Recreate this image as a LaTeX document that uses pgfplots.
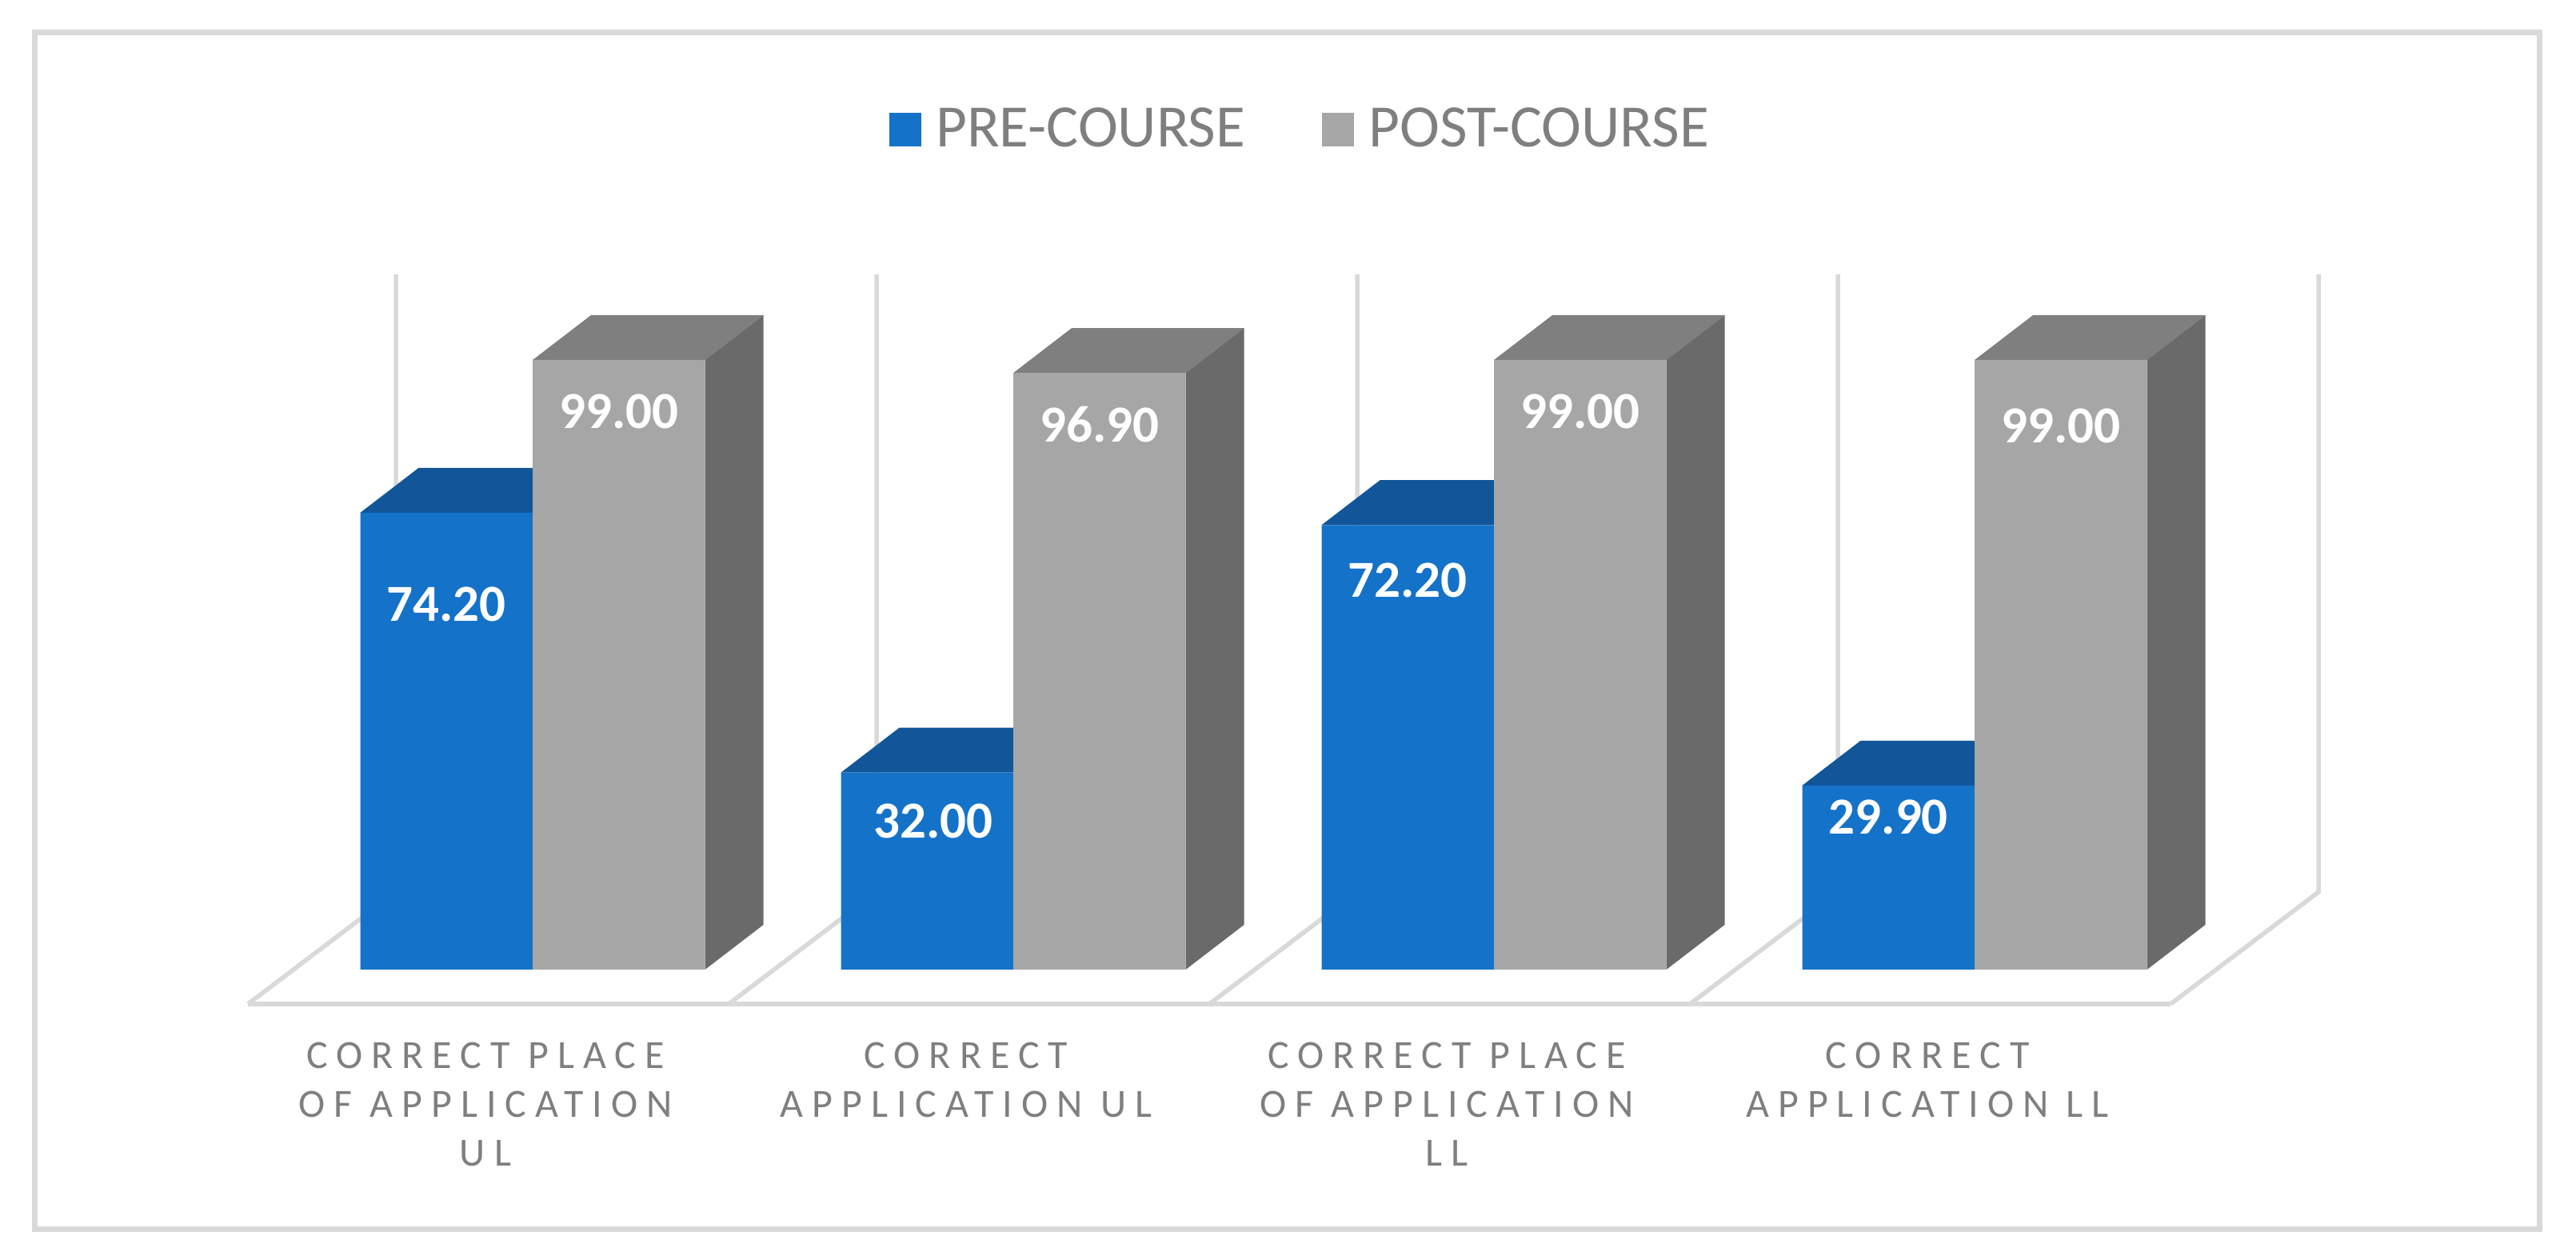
\documentclass[border=0pt]{standalone}
\usepackage{fontspec}
\setmainfont{Carlito}
\newfontfamily\spaced[LetterSpace=22]{Carlito}
\usepackage{pgfplots}
\usepackage{pgfplotstable}
\pgfplotsset{compat=1.18}
\definecolor{bluefront}{HTML}{1572C9}
\definecolor{bluetop}{HTML}{125699}
\definecolor{greyfront}{HTML}{A6A6A6}
\definecolor{greytop}{HTML}{7F7F7F}
\definecolor{greyside}{HTML}{6A6A6A}
\definecolor{framegrey}{HTML}{D9D9D9}
\definecolor{textgrey}{HTML}{7F7F7F}
% x = category, v = percentage, off/dx = label offset (pt) from the bar top centre
\pgfplotstableread{
x v off dx
0 74.2 28.75 0
1 32.0 15.25 2
2 72.2 17.25 0
3 29.9 10.00 0
}\pre
\pgfplotstableread{
x v off dx
0 99.0 16.00 0
1 96.9 16.00 0
2 99.0 16.00 0
3 99.0 20.50 0
}\post
\pgfplotsset{
  grid3d/.style={draw=framegrey,line width=1.4pt,line join=miter,forget plot,mark=none},
  face/.style={fill=#1,draw=none,forget plot,mark=none},
  valuebar/.style 2 args={ybar,bar width=53.875pt,bar shift=#2,fill=#1,draw=none,
    legend image code/.code={\fill[#1] (0pt,-5.25pt) rectangle (10pt,5.25pt);\path (12.65pt,0pt);},
    nodes near coords={\pgfmathprintnumber[fixed,fixed zerofill,precision=2,assume math mode=true]{\pgfplotspointmeta}},
    visualization depends on={\thisrow{off}\as\off},
    visualization depends on={\thisrow{dx}\as\dx},
    every node near coord/.append style={anchor=center,xshift={#2+\dx pt},yshift=-\off pt,text=white,
      font=\bfseries\fontsize{16.25}{18}\selectfont}},
}
\begin{document}
\begin{tikzpicture}
\begin{axis}[
  at={(0,0)},anchor=south west,
  scale only axis,width=805.25pt,height=393.5pt,
  xmin=-1.1082,xmax=4.2512,ymin=-47.03,ymax=157.46,
  clip=false,
  axis line style={draw=none},
  ytick=\empty,
  xtick={0,1,2,3},
  xticklabels={{CORRECT PLACE\\OF APPLICATION\\UL},{CORRECT\\APPLICATION UL},{CORRECT PLACE\\OF APPLICATION\\LL},{CORRECT\\APPLICATION LL}},
  major tick length=0pt,
  tick style={draw=none},
  xticklabel style={anchor=north,align=center,inner sep=0pt,text=textgrey,
    font=\spaced\fontsize{12.5}{15.25}\selectfont,
    xshift=-14.75pt,yshift=68pt},
  legend style={at={(0.5055,0.897)},anchor=center,draw=none,fill=none,
    font=\fontsize{18.8}{20}\selectfont,text=textgrey,legend columns=2,
    /tikz/every even column/.append style={column sep=22pt}},
  legend cell align=left,
]
\draw[framegrey,line width=1.75pt] (axis description cs:0.01366,0.97395) rectangle (axis description cs:0.98572,0.02351);
% floor and walls
\addplot[grid3d] coordinates {(-0.5923,-5.587)(3.4077,-5.587)};
\addplot[grid3d] coordinates {(-0.5923,-5.587)(-0.2845,12.60)(-0.2845,112.9)};
\addplot[grid3d] coordinates {(0.4077,-5.587)(0.7155,12.60)(0.7155,112.9)};
\addplot[grid3d] coordinates {(1.4077,-5.587)(1.7155,12.60)(1.7155,112.9)};
\addplot[grid3d] coordinates {(2.4077,-5.587)(2.7155,12.60)(2.7155,112.9)};
\addplot[grid3d] coordinates {(3.4077,-5.587)(3.7155,12.60)(3.7155,112.9)};
% tops of the blue bars
\addplot[face=bluetop] coordinates {(-0.3586,74.2)(-0.2371,81.48)(0.1215,81.48)(0,74.2)};
\addplot[face=bluetop] coordinates {(0.6414,32.0)(0.7629,39.28)(1.1215,39.28)(1,32.0)};
\addplot[face=bluetop] coordinates {(1.6414,72.2)(1.7629,79.48)(2.1215,79.48)(2,72.2)};
\addplot[face=bluetop] coordinates {(2.6414,29.9)(2.7629,37.18)(3.1215,37.18)(3,29.9)};
% tops of the grey bars
\addplot[face=greytop] coordinates {(0,99.0)(0.1215,106.28)(0.4801,106.28)(0.3586,99.0)};
\addplot[face=greytop] coordinates {(1,96.9)(1.1215,104.18)(1.4801,104.18)(1.3586,96.9)};
\addplot[face=greytop] coordinates {(2,99.0)(2.1215,106.28)(2.4801,106.28)(2.3586,99.0)};
\addplot[face=greytop] coordinates {(3,99.0)(3.1215,106.28)(3.4801,106.28)(3.3586,99.0)};
% sides of the grey bars
\addplot[face=greyside] coordinates {(0.3586,0)(0.4801,7.28)(0.4801,106.28)(0.3586,99.0)};
\addplot[face=greyside] coordinates {(1.3586,0)(1.4801,7.28)(1.4801,104.18)(1.3586,96.9)};
\addplot[face=greyside] coordinates {(2.3586,0)(2.4801,7.28)(2.4801,106.28)(2.3586,99.0)};
\addplot[face=greyside] coordinates {(3.3586,0)(3.4801,7.28)(3.4801,106.28)(3.3586,99.0)};
% front faces
\addplot[valuebar={bluefront}{-26.94pt}] table[x=x,y=v] {\pre};
\addlegendentry{PRE-COURSE}
\addplot[valuebar={greyfront}{26.94pt}] table[x=x,y=v] {\post};
\addlegendentry{POST-COURSE}
\end{axis}
\end{tikzpicture}
\end{document}
